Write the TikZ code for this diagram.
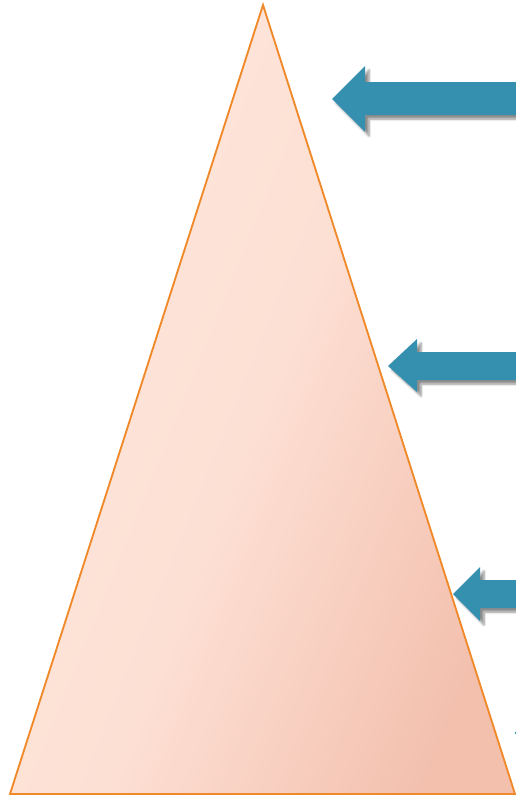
\documentclass[tikz,border=0pt]{standalone}
\usetikzlibrary{shadows.blur}
\definecolor{tri1}{HTML}{FEE6DC}
\definecolor{trimid}{HTML}{FDE0D4}
\definecolor{tri2}{HTML}{F3C0AE}
\definecolor{triedge}{HTML}{F0892A}
\definecolor{arrowblue}{HTML}{3590B0}
\tikzset{
  pyramid/.style={draw=triedge, line width=1.4pt, line join=miter, top color=tri1, bottom color=tri2, middle color=trimid, shading angle=68},
  blockarrow/.style={fill=arrowblue, blur shadow={shadow xshift=3pt, shadow yshift=-3pt, shadow blur steps=6, shadow opacity=45}}
}
\begin{document}
\begin{tikzpicture}[x=0.75pt,y=-0.75pt]
\useasboundingbox (0,0) rectangle (516,796);
\clip (0,0) rectangle (516,796);
\coordinate (apex) at (263,5);
\coordinate (bl) at (10,794);
\coordinate (br) at (515,794);
\path[pyramid] (apex) -- (bl) -- (br) -- cycle;
% arrow 1
\path[blockarrow] (332,99) -- (365,66) -- (365,82) -- (530,82) -- (530,115) -- (365,115) -- (365,132) -- cycle;
% arrow 2
\path[blockarrow] (388,366) -- (417,339) -- (417,352) -- (530,352) -- (530,380) -- (417,380) -- (417,392) -- cycle;
% arrow 3
\path[blockarrow] (453,594) -- (480,567) -- (480,580) -- (530,580) -- (530,608) -- (480,608) -- (480,621) -- cycle;
% arrow 4 (tip only visible)
\path[fill=arrowblue] (514.5,733) -- (540,708) -- (540,758) -- cycle;
\end{tikzpicture}
\end{document}
